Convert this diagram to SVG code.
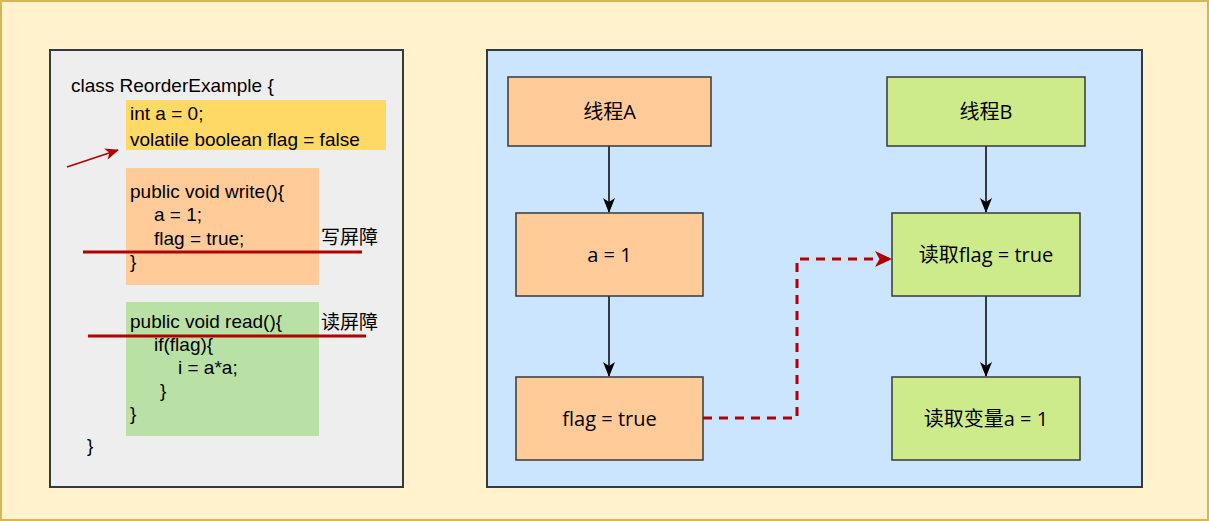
<svg xmlns="http://www.w3.org/2000/svg" width="1209" height="521" viewBox="0 0 1209 521">
<defs>
<style>
.code{font-family:"Liberation Sans","Noto Sans CJK SC",sans-serif;font-size:19px;fill:#000}
.lbl{font-family:"Liberation Sans","Noto Sans CJK SC",sans-serif;font-size:19px;fill:#000}
.nt{font-family:"Open Sans","Liberation Sans","Noto Sans CJK SC",sans-serif;font-size:20px;fill:#000;text-anchor:middle;dominant-baseline:central}
.box{stroke:#36393d;stroke-width:1.5}
.a{fill:#ffcc99}
.b{fill:#cdeb8b}
</style>
<marker id="ab" markerWidth="15" markerHeight="12" viewBox="0 0 15 12" refX="14" refY="6" orient="auto" markerUnits="userSpaceOnUse">
<path d="M0,0 L15,6 L0,12 L4,6 Z" fill="#000"/>
</marker>
<marker id="ar" markerWidth="17" markerHeight="16" viewBox="0 0 17 16" refX="16" refY="8" orient="auto" markerUnits="userSpaceOnUse">
<path d="M0,0 L17,8 L0,16 L4.5,8 Z" fill="#b20000"/>
</marker>
<marker id="ar2" markerWidth="14" markerHeight="12" viewBox="0 0 14 12" refX="13" refY="6" orient="auto" markerUnits="userSpaceOnUse">
<path d="M0,0 L14,6 L0,12 L4,6 Z" fill="#b20000"/>
</marker>
</defs>
<rect x="1" y="1" width="1207" height="519" fill="#fff2cc" stroke="#d6b656" stroke-width="2"/>
<g id="code-panel">
<rect x="50" y="50" width="353" height="437" fill="#eeeeee" stroke="#36393d" stroke-width="2"/>
<rect x="126" y="100" width="260" height="50" fill="#ffd966"/>
<rect x="126" y="168" width="193" height="117" fill="#ffcc99"/>
<rect x="126" y="302" width="193" height="134" fill="#b9e0a5"/>
<text class="code" x="71" y="92">class ReorderExample {</text>
<text class="code" x="130" y="120">int a = 0;</text>
<text class="code" x="130" y="146">volatile boolean flag = false</text>
<text class="code" x="130" y="198">public void write(){</text>
<text class="code" x="154" y="221">a = 1;</text>
<text class="code" x="154" y="245">flag = true;</text>
<text class="code" x="130" y="268">}</text>
<text class="code" x="130" y="328">public void read(){</text>
<text class="code" x="154" y="351">if(flag){</text>
<text class="code" x="178" y="374">i = a*a;</text>
<text class="code" x="160" y="397">}</text>
<text class="code" x="130" y="420">}</text>
<text class="code" x="87" y="452">}</text>
<line x1="83" y1="252" x2="362" y2="252" stroke="#b20000" stroke-width="3"/>
<line x1="88" y1="336" x2="366" y2="336" stroke="#b20000" stroke-width="3"/>
<text class="lbl" x="321" y="244">写屏障</text>
<text class="lbl" x="321" y="329">读屏障</text>
<line x1="67" y1="167" x2="118" y2="150" stroke="#b20000" stroke-width="1.5" marker-end="url(#ar2)"/>
</g>
<g id="flow-panel">
<rect x="487" y="50" width="655" height="437" fill="#cce5ff" stroke="#36393d" stroke-width="2"/>
</g>
<g id="connectors">
<line x1="609" y1="146" x2="609" y2="212" stroke="#000" stroke-width="1.5" marker-end="url(#ab)"/>
<line x1="609" y1="296" x2="609" y2="376" stroke="#000" stroke-width="1.5" marker-end="url(#ab)"/>
<line x1="986" y1="146" x2="986" y2="212" stroke="#000" stroke-width="1.5" marker-end="url(#ab)"/>
<line x1="986" y1="296" x2="986" y2="376" stroke="#000" stroke-width="1.5" marker-end="url(#ab)"/>
<polyline points="703,418 797,418 797,259 891,259" fill="none" stroke="#b20000" stroke-width="3" stroke-dasharray="9,7" marker-end="url(#ar)"/>
</g>
<g id="threadA"><rect class="box a" x="508" y="77" width="203" height="69"/><text class="nt" x="609.5" y="111.5">线程A</text></g>
<g id="threadB"><rect class="box b" x="887" y="77" width="198" height="69"/><text class="nt" x="986" y="111.5">线程B</text></g>
<g id="a1"><rect class="box a" x="516" y="213" width="187" height="83"/><text class="nt" x="609.5" y="254.5">a = 1</text></g>
<g id="readflag"><rect class="box b" x="892" y="213" width="188" height="83"/><text class="nt" x="986" y="254.5">读取flag = true</text></g>
<g id="flagtrue"><rect class="box a" x="516" y="377" width="187" height="83"/><text class="nt" x="609.5" y="418.5">flag = true</text></g>
<g id="reada"><rect class="box b" x="892" y="377" width="188" height="83"/><text class="nt" x="986" y="418.5">读取变量a = 1</text></g>
</svg>
